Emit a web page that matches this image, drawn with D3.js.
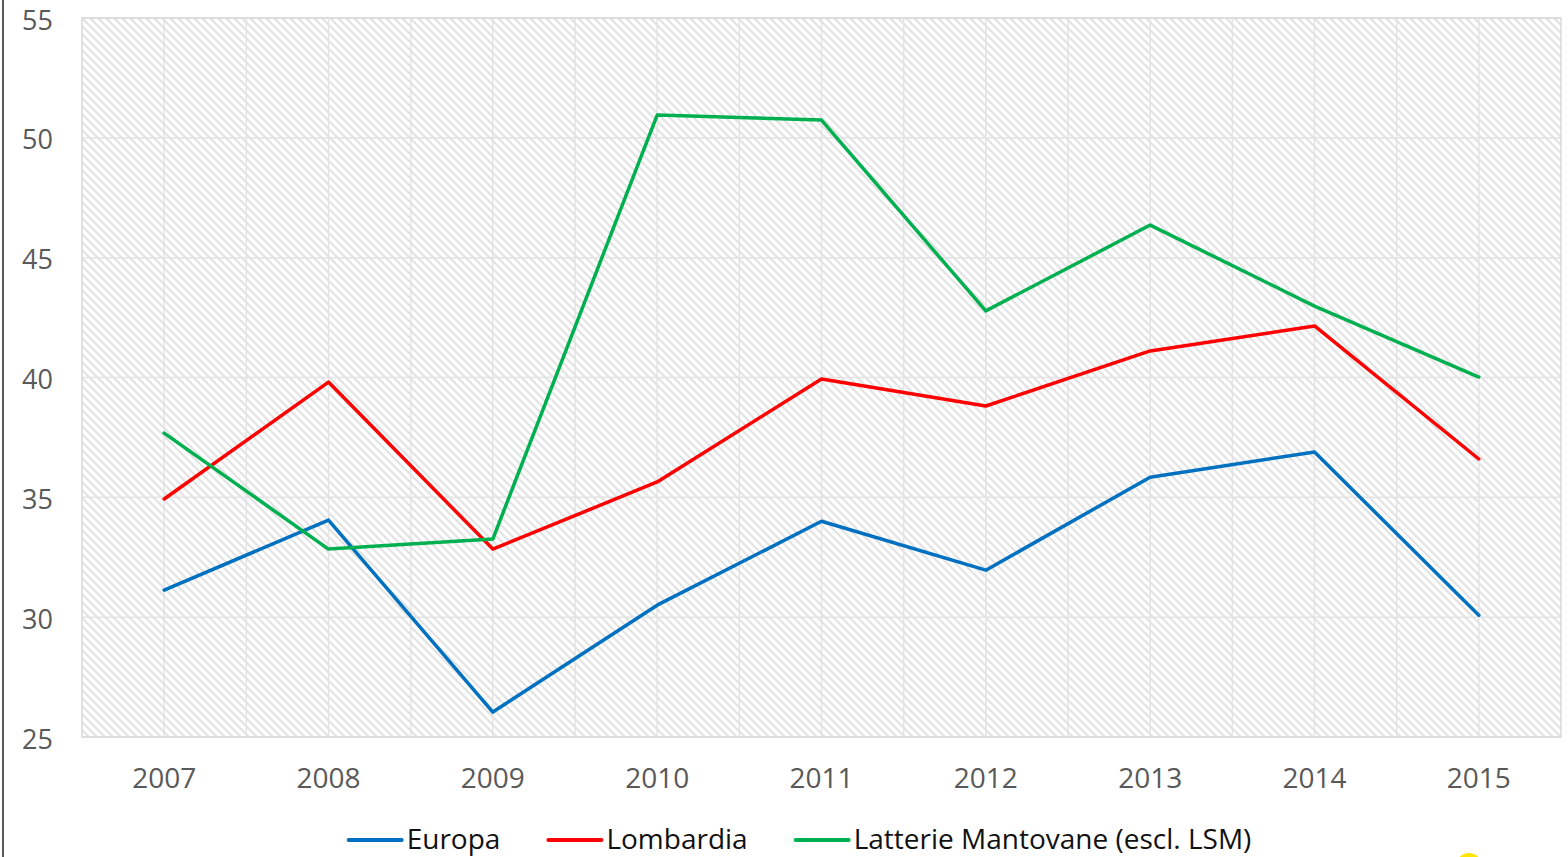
<!DOCTYPE html>
<html><head><meta charset="utf-8">
<script src="https://cdn.jsdelivr.net/npm/d3@7"></script>
<style>html,body{margin:0;padding:0;background:#fff;overflow:hidden}</style>
</head><body>
<svg id="chart" width="1568" height="857"></svg>
<script>
const years = ["2007","2008","2009","2010","2011","2012","2013","2014","2015"];
const europa = [31.13, 34.05, 26.04, 30.5, 34.0, 31.96, 35.84, 36.89, 30.08];
const lombardia = [34.93, 39.81, 32.84, 35.64, 39.94, 38.81, 41.11, 42.15, 36.6];
const latterie = [37.68, 32.84, 33.26, 50.95, 50.74, 42.78, 46.36, 42.98, 40.02];
const yTicks = [25, 30, 35, 40, 45, 50, 55];
const seriesNames = ["Europa", "Lombardia", "Latterie Mantovane (escl. LSM)"];
const seriesColors = ["#0070C0", "#FF0000", "#00B050"];

const svg = d3.select("#chart");
const L = 82, R = 1561, T = 18, B = 737;
const x = d3.scaleBand().domain(years).range([L, R]).padding(0);
const y = d3.scaleLinear().domain([25, 55]).range([B, T]);
const font = "'Open Sans', sans-serif";

// hatch pattern
const defs = svg.append("defs");
const pat = defs.append("pattern").attr("id", "hatch").attr("patternUnits", "userSpaceOnUse")
  .attr("width", 8).attr("height", 8);
pat.append("rect").attr("width", 8).attr("height", 8).attr("fill", "#fff");
pat.append("path").attr("d", "M-2,-2 L10,10 M-2,6 L2,10 M6,-2 L10,2")
  .attr("stroke", "#e2e2e2").attr("stroke-width", 2);

svg.append("rect").attr("x", L).attr("y", T).attr("width", R - L).attr("height", B - T)
  .attr("fill", "url(#hatch)");

// gridlines
const g = svg.append("g");
const vx = [];
years.forEach(d => { vx.push(x(d)); vx.push(x(d) + x.bandwidth() / 2); });
g.selectAll("line.v").data(vx.filter(v => v > L + 1 && v < R - 1)).join("line")
  .attr("x1", d => d).attr("x2", d => d).attr("y1", T).attr("y2", B)
  .attr("stroke", "#e3e3e3").attr("stroke-width", 1.5);
g.selectAll("line.h").data(yTicks).join("line")
  .attr("x1", L).attr("x2", R).attr("y1", d => y(d)).attr("y2", d => y(d))
  .attr("stroke", "#e3e3e3").attr("stroke-width", 1.5);
svg.append("rect").attr("x", L).attr("y", T).attr("width", R - L).attr("height", B - T)
  .attr("fill", "none").attr("stroke", "#d9d9d9").attr("stroke-width", 1.5);

// axes labels via d3 axes
const yAxis = svg.append("g").attr("transform", `translate(${53},0)`)
  .call(d3.axisLeft(y).tickValues(yTicks).tickSize(0).tickPadding(0));
yAxis.select(".domain").remove();
yAxis.selectAll("text").attr("font-family", font).attr("font-size", 27).attr("fill", "#595959")
  .attr("dy", null).attr("y", 11);

const xAxis = svg.append("g").attr("transform", `translate(0,${B})`)
  .call(d3.axisBottom(x).tickSize(0).tickPadding(31));
xAxis.select(".domain").remove();
xAxis.selectAll("text").attr("font-family", font).attr("font-size", 28).attr("fill", "#595959");

// lines
const cx = d => x(d) + x.bandwidth() / 2;
const line = d3.line().x((d, i) => cx(years[i])).y(d => y(d));
[europa, lombardia, latterie].forEach((s, k) => {
  svg.append("path").datum(s).attr("d", line).attr("fill", "none")
    .attr("stroke", seriesColors[k]).attr("stroke-width", 3.5)
    .attr("stroke-linejoin", "round").attr("stroke-linecap", "round");
});

// legend
const leg = svg.append("g");
const ly = 840;
const items = seriesNames.map((n, i) => {
  const gi = leg.append("g");
  gi.append("line").attr("x1", 0).attr("x2", 53).attr("y1", ly).attr("y2", ly)
    .attr("stroke", seriesColors[i]).attr("stroke-width", 4).attr("stroke-linecap", "round");
  const t = gi.append("text").attr("x", 58).attr("y", ly + 9).text(n)
    .attr("font-family", font).attr("font-size", 28).attr("fill", "#111");
  return { gi, w: 58 + t.node().getComputedTextLength() };
});
const gap = 48;
const total = d3.sum(items, d => d.w) + gap * (items.length - 1);
let cur = 800 - total / 2;
items.forEach(it => { it.gi.attr("transform", `translate(${cur},0)`); cur += it.w + gap; });

// left border line and yellow mark
svg.append("line").attr("x1", 3).attr("x2", 3).attr("y1", 0).attr("y2", 857)
  .attr("stroke", "#595959").attr("stroke-width", 2);
svg.append("circle").attr("cx", 1469).attr("cy", 866).attr("r", 13).attr("fill", "#FFE600");
</script>
</body></html>
